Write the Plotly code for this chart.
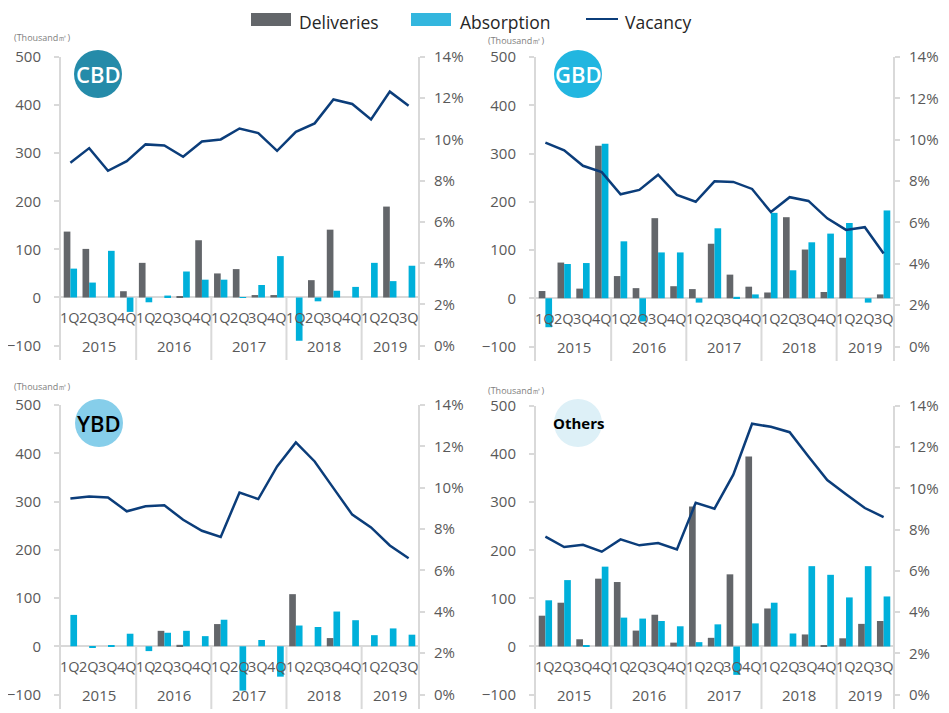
import plotly.graph_objects as go

# ---------------- data ----------------
quarter_labels = ["1Q", "2Q", "3Q", "4Q"] * 4 + ["1Q", "2Q", "3Q"]
year_labels = ["2015", "2016", "2017", "2018", "2019"]
quarters_per_year = [4, 4, 4, 4, 3]

cbd_deliveries = [137, 101, 0, 13, 72, 0, 3, 119, 50, 59, 5, 5, 0, 36, 141, 0, 0, 189, 0]
cbd_absorption = [60, 31, 97, -30, -10, 4, 54, 37, 37, 1, 26, 86, -90, -8, 14, 22, 72, 34, 66]
cbd_vacancy = [8.87, 9.58, 8.48, 8.95, 9.76, 9.71, 9.16, 9.90, 10.0, 10.53, 10.31, 9.45,
               10.37, 10.78, 11.94, 11.72, 10.97, 12.32, 11.64]

gbd_deliveries = [15, 74, 20, 316, 46, 21, 166, 25, 19, 113, 49, 24, 12, 168, 101, 13, 84, 0, 8]
gbd_absorption = [-60, 71, 73, 320, 118, -48, 95, 95, -9, 145, 3, 8, 177, 58, 116, 134, 156, -9, 182]
gbd_vacancy = [9.86, 9.49, 8.74, 8.43, 7.36, 7.57, 8.31, 7.33, 7.00, 7.99, 7.96, 7.62,
               6.50, 7.22, 7.04, 6.20, 5.64, 5.77, 4.50]

ybd_deliveries = [0, 0, 0, 0, 0, 32, 3, 0, 46, 0, 0, 0, 108, 0, 17, 0, 0, 0, 0]
ybd_absorption = [65, -3, 1, 26, -10, 28, 32, 21, 55, -92, 13, -63, 43, 40, 72, 54, 23, 37, 24]
ybd_vacancy = [9.48, 9.58, 9.53, 8.86, 9.10, 9.15, 8.45, 7.92, 7.62, 9.77, 9.45, 11.03,
               12.19, 11.27, 9.98, 8.70, 8.08, 7.21, 6.59]

others_deliveries = [64, 91, 15, 141, 134, 33, 66, 8, 291, 18, 150, 395, 79, 0, 25, 3, 17, 47, 53]
others_absorption = [96, 138, 2, 166, 60, 58, 53, 42, 9, 46, -59, 48, 91, 27, 167, 149, 102, 167, 104]
others_vacancy = [7.66, 7.16, 7.27, 6.93, 7.53, 7.24, 7.35, 7.04, 9.30, 9.02, 10.67, 13.14,
                  12.99, 12.73, 11.55, 10.41, 9.72, 9.05, 8.61]

left_ticks = [-100, 0, 100, 200, 300, 400, 500]
right_ticks = [0, 0.02, 0.04, 0.06, 0.08, 0.10, 0.12, 0.14]

# ---------------- style ----------------
W, H = 949, 713
OFF = 8  # page body margin offset in the rendered page
FONT = "Open Sans"
GRAY_TXT = "#595959"
AXIS_C = "#D9D9D9"
C_DEL = "#63666A"
C_ABS = "#00B0DA"
C_VAC = "#0B3D7A"


def px(x):
    return (x - OFF) / W


def py(y):
    return 1 - (y - OFF) / H


panels = [
    dict(name="CBD", d=cbd_deliveries, a=cbd_absorption, v=cbd_vacancy,
         xdom=[px(61), px(418)], ydom=[py(360), py(57)],
         bcol="#258BA9", tcol="white", tsize=22, bw=600, bc=(98, 74), unit=(12, 38)),
    dict(name="GBD", d=gbd_deliveries, a=gbd_absorption, v=gbd_vacancy,
         xdom=[px(536), px(893)], ydom=[py(361), py(57)],
         bcol="#22B6E0", tcol="white", tsize=22, bw=600, bc=(578, 74), unit=(486, 40)),
    dict(name="YBD", d=ybd_deliveries, a=ybd_absorption, v=ybd_vacancy,
         xdom=[px(61), px(418)], ydom=[py(709), py(405)],
         bcol="#86CEEA", tcol="black", tsize=22, bw=600, bc=(99, 423), unit=(12, 387)),
    dict(name="Others", d=others_deliveries, a=others_absorption, v=others_vacancy,
         xdom=[px(536), px(893)], ydom=[py(709), py(406)],
         bcol="#DDF0F7", tcol="black", tsize=15, bw="bold", bc=(578, 423), unit=(486, 390)),
]

xs = list(range(len(quarter_labels)))
YMIN, YMAX = -130, 500
RMIN, RMAX = -0.007, 0.14

fig = go.Figure()
annotations = []
shapes = []

for k, p in enumerate(panels, start=1):
    xa = f"x{k}" if k > 1 else "x"
    ya = f"y{k}" if k > 1 else "y"
    yr = f"y{k + 4}"
    fig.add_trace(go.Bar(x=xs, y=p["d"], name="Deliveries", marker=dict(color=C_DEL, line_width=0),
                         xaxis=xa, yaxis=ya, showlegend=False))
    fig.add_trace(go.Bar(x=xs, y=p["a"], name="Absorption", marker=dict(color=C_ABS, line_width=0),
                         xaxis=xa, yaxis=ya, showlegend=False))
    fig.add_trace(go.Scatter(x=xs, y=[v / 100 for v in p["v"]], name="Vacancy", mode="lines",
                             line=dict(color=C_VAC, width=2.5), xaxis=xa, yaxis=yr, showlegend=False))

    sfx = "" if k == 1 else str(k)
    fig.layout[f"xaxis{sfx}"] = dict(domain=p["xdom"], anchor=ya, range=[-0.5, len(xs) - 0.5],
                                     showticklabels=False, showgrid=False, zeroline=False,
                                     showline=False, ticks="", fixedrange=True, automargin=False)
    fig.layout[f"yaxis{sfx}"] = dict(domain=p["ydom"], anchor=xa, range=[YMIN, YMAX],
                                     tickvals=left_ticks, showgrid=False, zeroline=True,
                                     zerolinecolor=AXIS_C, zerolinewidth=2,
                                     showline=True, linecolor=AXIS_C, linewidth=2,
                                     ticks="outside", ticklen=5, tickcolor=AXIS_C, tickwidth=2,
                                     ticklabelstandoff=10, automargin=False,
                                     tickfont=dict(family=FONT, size=15, color=GRAY_TXT))
    fig.layout[f"yaxis{k + 4}"] = dict(overlaying=ya, anchor=xa, side="right", range=[RMIN, RMAX],
                                       tickvals=right_ticks, tickformat=".0%", showgrid=False,
                                       zeroline=False, showline=True, linecolor=AXIS_C, linewidth=2,
                                       ticks="outside", ticklen=5, tickcolor=AXIS_C, tickwidth=2,
                                       ticklabelstandoff=6, automargin=False,
                                       tickfont=dict(family=FONT, size=15, color=GRAY_TXT))

    # quarter labels just below the zero line
    for xi, q in zip(xs, quarter_labels):
        annotations.append(dict(x=xi, y=0, xref=xa, yref=ya, text=q, showarrow=False,
                                yanchor="top", yshift=-9,
                                font=dict(family=FONT, size=14.5, color=GRAY_TXT)))
    # year labels and separators
    start = 0
    for j, (yl, n) in enumerate(zip(year_labels, quarters_per_year)):
        center = start + (n - 1) / 2
        annotations.append(dict(x=center, y=YMIN, xref=xa, yref=ya, text=yl, showarrow=False,
                                yanchor="bottom", yshift=2,
                                font=dict(family=FONT, size=15, color=GRAY_TXT)))
        if j > 0:
            shapes.append(dict(type="line", xref=xa, yref=ya, x0=start - 0.5, x1=start - 0.5,
                               y0=0, y1=YMIN, line=dict(color=AXIS_C, width=2)))
        start += n

    # badge
    cx, cy = p["bc"]
    shapes.append(dict(type="circle", xref="paper", yref="paper", xsizemode="pixel",
                       ysizemode="pixel", xanchor=px(cx), yanchor=py(cy),
                       x0=-24, x1=24, y0=-24, y1=24, fillcolor=p["bcol"], line=dict(width=0),
                       layer="above"))
    annotations.append(dict(x=px(cx), y=py(cy), xref="paper", yref="paper", text=p["name"],
                            showarrow=False, xanchor="center", yanchor="middle",
                            font=dict(family=FONT, size=p["tsize"], color=p["tcol"],
                                      weight=p["bw"])))
    # unit label
    ux, uy = p["unit"]
    annotations.append(dict(x=px(ux), y=py(uy), xref="paper", yref="paper",
                            text="(Thousand㎡)", showarrow=False, xanchor="left", yanchor="middle",
                            font=dict(family=FONT, size=9, color="#808080")))

# ---------------- manual legend ----------------
shapes.append(dict(type="rect", xref="paper", yref="paper", x0=px(251), x1=px(291),
                   y0=py(26), y1=py(13), fillcolor=C_DEL, line=dict(width=0)))
shapes.append(dict(type="rect", xref="paper", yref="paper", x0=px(411), x1=px(451),
                   y0=py(26), y1=py(13), fillcolor="#33B6DE", line=dict(width=0)))
shapes.append(dict(type="line", xref="paper", yref="paper", x0=px(586), x1=px(618),
                   y0=py(19), y1=py(19), line=dict(color=C_VAC, width=2)))
for tx, txt in [(297, "Deliveries"), (458, "Absorption"), (623, "Vacancy")]:
    annotations.append(dict(x=px(tx), y=1, xref="paper", yref="paper", text=txt,
                            showarrow=False, xanchor="left", yanchor="top",
                            font=dict(family=FONT, size=17.5, color="#262626")))

fig.update_layout(template="none", width=W, height=H, margin=dict(l=0, r=0, t=0, b=0),
                  paper_bgcolor="white", plot_bgcolor="white",
                  barmode="group", bargap=0.29, bargroupgap=0,
                  showlegend=False, annotations=annotations, shapes=shapes,
                  font=dict(family=FONT, color=GRAY_TXT))

fig.write_html("out.html")
